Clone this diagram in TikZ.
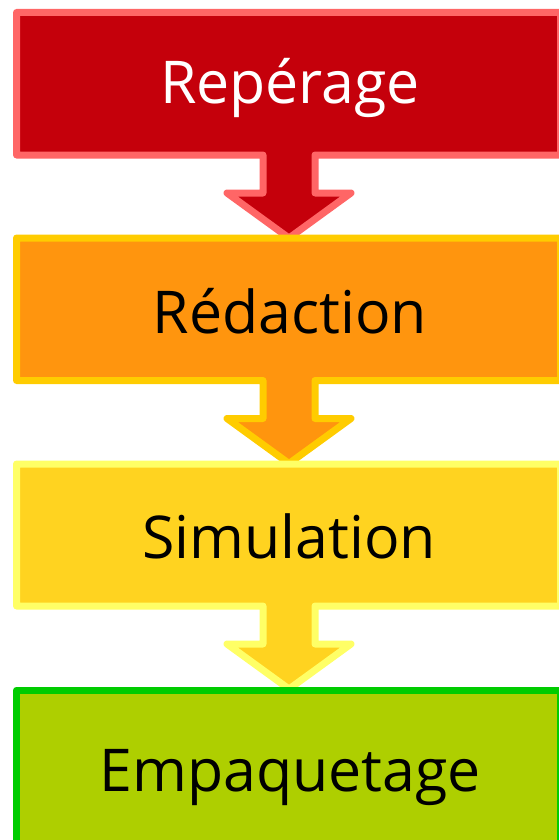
\documentclass[tikz,border=0pt]{standalone}
\usepackage{fontspec}
\setmainfont{Open Sans}
\definecolor{redfill}{HTML}{C5000B}
\definecolor{redline}{HTML}{FF6666}
\definecolor{orangefill}{HTML}{FF950E}
\definecolor{orangeline}{HTML}{FFCC00}
\definecolor{yellowfill}{HTML}{FFD320}
\definecolor{yellowline}{HTML}{FFFF66}
\definecolor{greenfill}{HTML}{AECF00}
\definecolor{greenline}{HTML}{00CC00}
\tikzset{
  stage/.style={line width=7pt, line join=round},
  label/.style={anchor=base, inner sep=0pt, font=\fontsize{59}{62}\selectfont},
}
% box with a downward arrow below it; #1 = top edge (y), #2 = bottom edge (y)
\newcommand{\arrowbox}[3]{%
  \path[stage, #3]
    (16.5,#1) -- (560.5,#1) -- (560.5,#2) -- (315,#2) -- (315,#2-38)
    -- (351,#2-38) -- (289,#2-83) -- (227,#2-38) -- (263,#2-38)
    -- (263,#2) -- (16.5,#2) -- cycle;}
\begin{document}
\begin{tikzpicture}[x=1pt,y=1pt]
  \useasboundingbox (0,0) rectangle (559,-840);
  \begin{scope}
    \clip (0,0) rectangle (559,-840);
    \arrowbox{-12.5}{-155}{fill=redfill, draw=redline}
    \arrowbox{-238}{-380.5}{fill=orangefill, draw=orangeline}
    \arrowbox{-464}{-606}{fill=yellowfill, draw=yellowline}
    \path[stage, fill=greenfill, draw=greenline]
      (16.5,-900) -- (16.5,-690) -- (560.5,-690) -- (560.5,-900);
  \end{scope}
  \node[label, text=white] (reperage) at (290,-104) {Repérage};
  \node[label] (redaction) at (290,-333) {Rédaction};
  \node[label] (simulation) at (289,-558) {Simulation};
  \node[label] (empaquetage) at (290,-791) {Empaquetage};
\end{tikzpicture}
\end{document}
